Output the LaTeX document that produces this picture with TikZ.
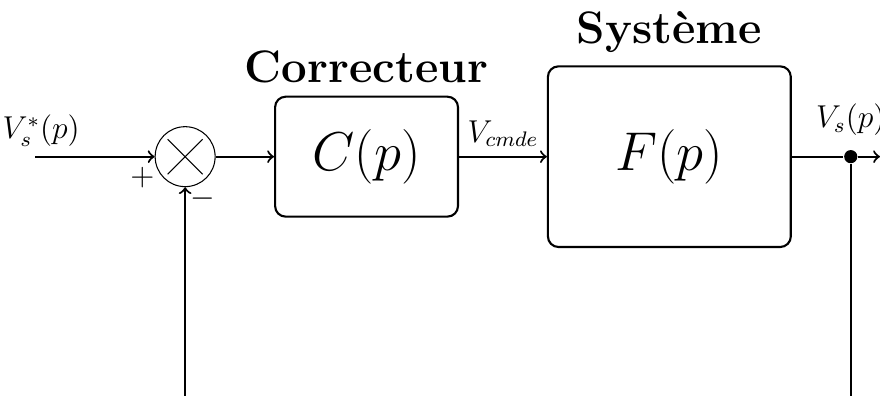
\documentclass[tikz,border=0pt]{standalone}
\usepackage{amssymb}
\usepackage{amsmath}
\usetikzlibrary{positioning}

\begin{document}
\begin{tikzpicture}[>=to, thick,
	bloc/.style={draw, rounded corners=4pt, font=\huge},
	titre/.style={font=\LARGE\bfseries, inner sep=0pt},
	signal/.style={font=\large}]
	\useasboundingbox (-2.47,-3.19) rectangle (9.27,2.09);
	
	%blocks
	\node[draw, circle, thin, minimum size=0.8cm] (som) at (0,0) {};
	\node[bloc, minimum width=2.44cm, minimum height=1.6cm] (corr) at (2.42,0) {$C(p)$};
	\node[bloc, minimum width=3.24cm, minimum height=2.41cm] (sys) at (6.46,0) {$F(p)$};
	\node[circle, fill, inner sep=0pt, minimum size=5pt] (pt) at (8.88,0) {};
	\draw[thin] (som.center) ++(45:0.33) -- ++(225:0.66);
	\draw[thin] (som.center) ++(135:0.33) -- ++(315:0.66);
	
	%titles
	\node[titre, above=0.15cm of corr] (tcorr) {Correcteur};
	\node[titre, above=0.15cm of sys]  (tsys)  {Syst\`eme};
	
	%ends
	\coordinate (entree) at (-2,0);
	\coordinate (sortie) at (9.27,0);
	\coordinate (bas)    at (8.88,-3.19);
	\coordinate (retour) at (0,-3.19);
	
	%signs
	\node[signal] (plus)  at (-0.57,-0.28) {$+$};
	\node[signal] (moins) at (0.24,-0.56)  {$-$};
	
	%links
	\draw[->] (entree) -- node[signal, pos=0.05, above] (ve) {$V_s^*(p)$} (som);
	\draw[->] (som) -- (corr);
	\draw[->] (corr) -- node[signal, above] (vc) {$V_{cmde}$} (sys);
	\draw (sys) -- (pt);
	\draw[->] (pt) -- (sortie);
	\node[signal, above=0.05cm of pt] (vs) {$V_s(p)$};
	\draw (pt) -- (bas);
	\draw[->] (retour) -- (som);
\end{tikzpicture}
\end{document}
